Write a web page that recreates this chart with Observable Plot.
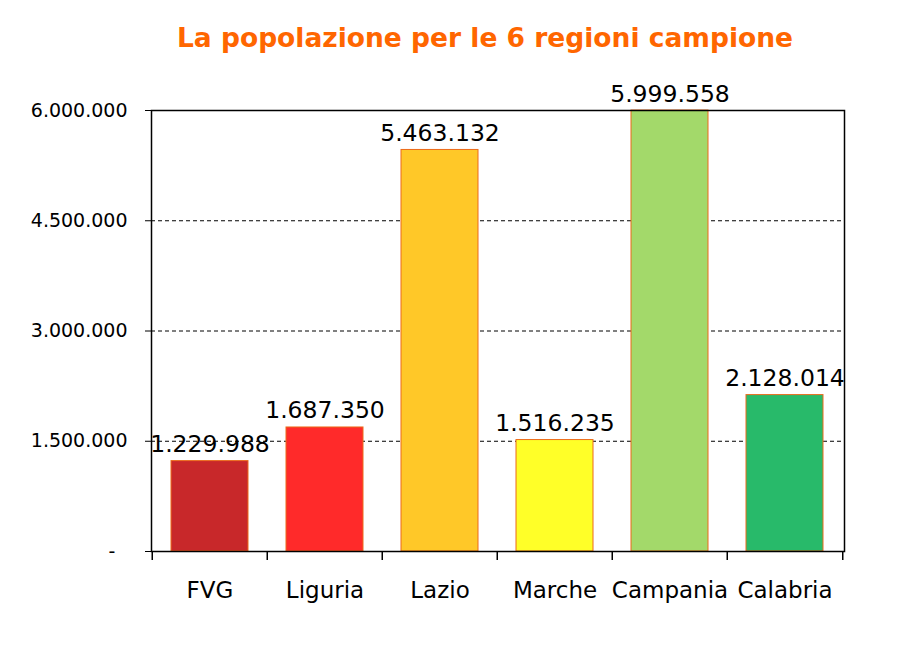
<!DOCTYPE html>
<html>
<head>
<meta charset="utf-8">
<script src="https://cdn.jsdelivr.net/npm/d3@7"></script>
<script src="https://cdn.jsdelivr.net/npm/@observablehq/plot@0.6"></script>
<style>
  body { margin: 0; background: #fff; font-family: "DejaVu Sans", Verdana, sans-serif; }
  #title { height: 75px; width: 912px; box-sizing: border-box; padding-left: 58px; text-align: center;
           font-family: "DejaVu Sans", Verdana, sans-serif; font-weight: bold; font-size: 26.5px;
           color: #FF6600; line-height: 76px; }
  svg { display: block; }
</style>
</head>
<body>
<div id="title">La popolazione per le 6 regioni campione</div>
<div id="chart"></div>
<script>
const regions = ["FVG", "Liguria", "Lazio", "Marche", "Campania", "Calabria"];
const population = [1229988, 1687350, 5463132, 1516235, 5999558, 2128014];
const barColors = ["#C8282A", "#FF2A2A", "#FFC828", "#FFFF28", "#A3D96A", "#28BA6A"];
const yTicks = [0, 1500000, 3000000, 4500000, 6000000];
const gridTicks = [1500000, 3000000, 4500000];

const data = regions.map((r, i) => ({region: r, value: population[i], color: barColors[i]}));
const fmt = v => v === 0 ? "-\u2007" : d3.format(",")(v).replace(/,/g, ".");

const W = 912, H = 588, mL = 151, mR = 68, mT = 35, mB = 112;
const step = (W - mL - mR) / regions.length;

const chart = Plot.plot({
  width: W, height: H,
  marginLeft: mL, marginRight: mR, marginTop: mT, marginBottom: mB,
  style: {fontFamily: "DejaVu Sans, Verdana, sans-serif", background: "#fff"},
  x: {domain: regions, paddingInner: 0.33, paddingOuter: 0.165, label: null},
  y: {domain: [0, 6000000], label: null},
  marks: [
    Plot.ruleY(gridTicks, {y: d => d, stroke: "#000", strokeWidth: 1, strokeDasharray: "4,3"}),
    Plot.barY(data, {x: "region", y: "value", fill: "color", stroke: "#EC6A1A", strokeWidth: 1}),
    Plot.text(data, {x: "region", y: "value", text: d => fmt(d.value), lineAnchor: "bottom", dy: -9,
      fontSize: 23.5, fill: "#000"}),
    Plot.frame({stroke: "#000", strokeWidth: 1.5}),
    Plot.axisY({ticks: yTicks, tickFormat: fmt, tickSize: 6, tickPadding: 18, fontSize: 19, stroke: "#000", fill: "#000", label: null}),
    Plot.axisX({tickSize: 0, tickPadding: 30, fontSize: 23, fill: "#000", label: null}),
    Plot.axisX({tickSize: 9, text: null, dx: -step / 2, stroke: "#000", strokeWidth: 1.5, label: null}),
    Plot.axisX({ticks: [regions[regions.length - 1]], tickSize: 9, text: null, dx: step / 2, stroke: "#000", strokeWidth: 1.5, label: null})
  ]
});
document.getElementById("chart").appendChild(chart);
</script>
</body>
</html>
